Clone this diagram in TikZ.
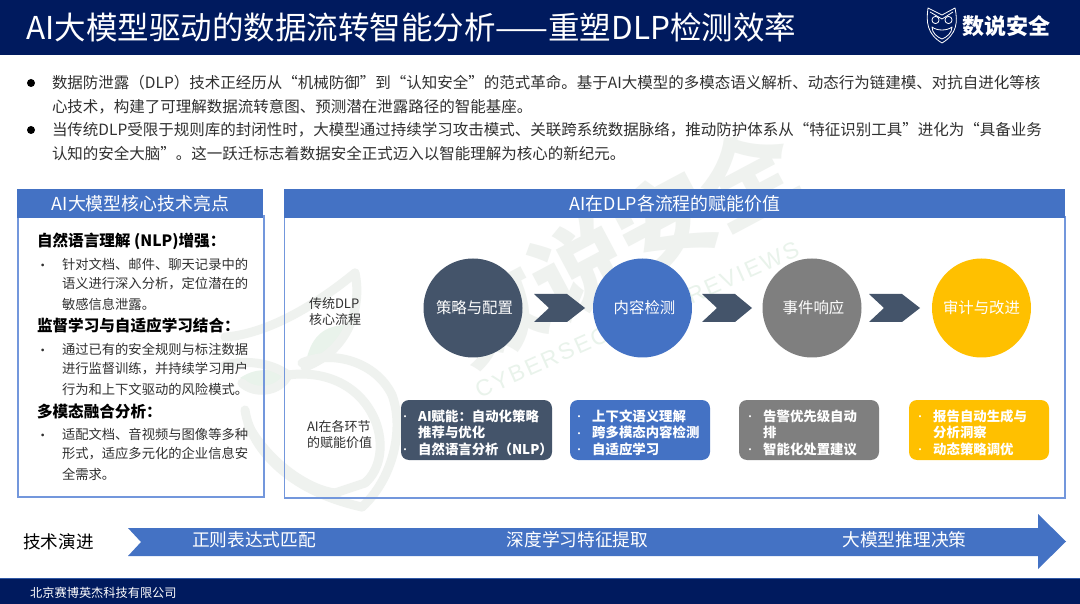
\documentclass[tikz,border=0pt]{standalone}
\usepackage{fontspec}
\setmainfont{Noto Sans CJK SC}
\newfontfamily\wmfont[LetterSpace=10]{Liberation Sans}
\definecolor{navy}{HTML}{001A5E}
\definecolor{hdr}{HTML}{4472C4}
\definecolor{edge}{HTML}{7397DC}
\definecolor{slate}{HTML}{44546A}
\definecolor{grayc}{HTML}{7F7F7F}
\definecolor{gold}{HTML}{FFC000}
\definecolor{wm}{HTML}{EFF2EF}
\definecolor{wmg}{HTML}{E9F3EB}
\definecolor{bodytxt}{HTML}{303030}
\newcommand{\fsz}[1]{\fontsize{#1}{#1}\selectfont}
\tikzset{
  txt/.style={inner sep=0pt,outer sep=0pt,anchor=west,text=bodytxt},
  para/.style={txt,font=\fsz{15.5}},
  sub/.style={txt,font=\fsz{13.3}},
  subdot/.style={txt,font=\fsz{13.3}},
  subhead/.style={txt,font=\fsz{15.6}\bfseries,text=black},
  panelhead/.style={fill=hdr,draw=none},
  panelbody/.style={draw=edge,line width=1.4pt},
  panelcap/.style={inner sep=0pt,text=white,font=\fsz{17.9}},
  stagec/.style={circle,minimum size=99pt,inner sep=0pt,text=white,font=\fsz{15.4}},
  stagel/.style={txt,font=\fsz{13}},
  aibox/.style={rounded corners=8pt,draw=none},
  boxt/.style={inner sep=0pt,anchor=west,text=white,font=\fsz{13.4}\bfseries},
  boxdot/.style={inner sep=0pt,anchor=center,text=white,font=\fsz{10},yshift=-2.5pt},
  chev/.style={fill=slate,draw=none},
  evo/.style={inner sep=0pt,text=white,font=\fsz{17.7}},
  wmline/.style={draw=wm,line width=9pt,line cap=round,line join=round}
}
\begin{document}
\begin{tikzpicture}[x=1pt,y=-1pt]
\useasboundingbox (0,0) rectangle (1080,604);
\fill[white] (0,0) rectangle (1080,604);
% watermark
\node[inner sep=0pt,rotate=28,text=wm,font=\fsz{96}\bfseries] (wmtext) at (622,245) {数说安全};
\node[inner sep=0pt,rotate=24,text=wmg,font=\fsz{23}\wmfont] (wmsub) at (637,320) {CYBERSECURITY REVIEWS};
\fill[wmg] (305,367) .. controls (310,335) and (325,325) .. (348,325) .. controls (345,345) and (330,360) .. (305,367) -- cycle;
\fill[wmg] (240,378) .. controls (255,368) and (270,368) .. (288,375) .. controls (280,390) and (255,392) .. (240,378) -- cycle;
\draw[wmline] (225,337) .. controls (255,335) and (300,318) .. (355,273);
\draw[wmline] (355,273) .. controls (362,305) and (350,350) .. (305,367);
\draw[wmline] (225,365) .. controls (245,360) and (270,362) .. (288,375);
\draw[wmline] (288,375) .. controls (280,392) and (255,395) .. (242,383);
\draw[wmline] (302,363) .. controls (330,350) and (375,360) .. (392,395) .. controls (405,430) and (392,480) .. (362,507);
\draw[wmline] (245,410) .. controls (250,445) and (285,490) .. (362,507);
\draw[wmline] (288,375) .. controls (325,370) and (360,385) .. (375,420) .. controls (385,445) and (380,470) .. (365,483);
\draw[wmline] (248,425) .. controls (270,465) and (310,490) .. (335,493);
\draw[wmline] (335,493) -- (365,483);
% header and footer
\fill[navy] (0,0) rectangle (1080,55);
\fill[navy] (0,579) rectangle (1080,604);
\draw[color=hdr!70!navy,line width=1pt] (0,578.5) -- (1080,578.5);
\node[inner sep=0pt,anchor=west,text=white,font=\fsz{31.5}] (title) at (26,27) {AI大模型驱动的数据流转智能分析——重塑DLP检测效率};
\node[inner sep=0pt,anchor=west,text=white,font=\fsz{12.2}] (foot) at (30,592.5) {北京赛博英杰科技有限公司};
% logo
\node[inner sep=0pt,anchor=west,text=white,font=\fsz{22}\bfseries] (logotxt) at (962,26) {数说安全};
\begin{scope}[draw=white,line width=0.8pt,line join=round]
\draw (928,8) -- (942,15) -- (955,8) .. controls (958,22) and (957,34) .. (942,43) .. controls (927,34) and (926,22) .. (928,8) -- cycle;
\draw (930,12) -- (942,19) -- (953,12);
\draw (935.5,20) circle (3.6);
\draw (948.5,20) circle (3.6);
\draw (932,27) .. controls (937,31) and (947,31) .. (952,27) .. controls (952,33) and (947,37) .. (942,39) .. controls (937,37) and (932,33) .. (932,27) -- cycle;
\end{scope}
% intro
\fill[black] (31,83) circle (4);
\fill[black] (31,130) circle (4);
\node[para] (l1) at (52,83) {数据防泄露（DLP）技术正经历从“机械防御”到“认知安全”的范式革命。基于AI大模型的多模态语义解析、动态行为链建模、对抗自进化等核};
\node[para] (l2) at (52,107) {心技术，构建了可理解数据流转意图、预测潜在泄露路径的智能基座。};
\node[para] (l3) at (52,130) {当传统DLP受限于规则库的封闭性时，大模型通过持续学习攻击模式、关联跨系统数据脉络，推动防护体系从“特征识别工具”进化为“具备业务};
\node[para] (l4) at (52,154) {认知的安全大脑”。这一跃迁标志着数据安全正式迈入以智能理解为核心的新纪元。};
% left panel
\draw[panelbody] (18,216) rectangle (264,497);
\fill[panelhead] (17,189) rectangle (263,218);
\node[panelcap] (lcap) at (140.5,203.5) {AI大模型核心技术亮点};
\node[subhead] (h1) at (37,241) {自然语言理解 (NLP)增强：};
\node[subdot] (b1) at (36,267) {•};
\node[sub] (t11) at (62,264) {针对文档、邮件、聊天记录中的};
\node[sub] (t12) at (62,284) {语义进行深入分析，定位潜在的};
\node[sub] (t13) at (62,304) {敏感信息泄露。};
\node[subhead] (h2) at (37,326) {监督学习与自适应学习结合：};
\node[subdot] (b2) at (36,352) {•};
\node[sub] (t21) at (62,349) {通过已有的安全规则与标注数据};
\node[sub] (t22) at (62,369) {进行监督训练，并持续学习用户};
\node[sub] (t23) at (62,389) {行为和上下文驱动的风险模式。};
\node[subhead] (h3) at (37,411) {多模态融合分析：};
\node[subdot] (b3) at (36,437) {•};
\node[sub] (t31) at (62,434) {适配文档、音视频与图像等多种};
\node[sub] (t32) at (62,454) {形式，适应多元化的企业信息安};
\node[sub] (t33) at (62,474) {全需求。};
% right panel
\draw[panelbody] (284.5,217) rectangle (1065,498);
\fill[panelhead] (284,189) rectangle (1065,218);
\node[panelcap] (rcap) at (675,203.5) {AI在DLP各流程的赋能价值};
\node[stagel] (s1) at (309,304) {传统DLP};
\node[stagel] (s2) at (309,320) {核心流程};
\node[stagel] (s3) at (307,427) {AI在各环节};
\node[stagel] (s4) at (307,443) {的赋能价值};
\node[stagec,fill=slate] (c1) at (473,308) {\hspace*{3pt}策略与配置};
\node[stagec,fill=hdr] (c2) at (642.5,308) {\hspace*{4pt}内容检测};
\node[stagec,fill=grayc] (c3) at (812,308) {\hspace*{3pt}事件响应};
\node[stagec,fill=gold] (c4) at (981.5,308) {审计与改进};
\fill[chev] (534,294) -- (567,294) -- (585,308) -- (567,322) -- (534,322) -- (549,308) -- cycle;
\fill[chev] (702,294) -- (735,294) -- (752,308) -- (735,322) -- (702,322) -- (717,308) -- cycle;
\fill[chev] (869,294) -- (902,294) -- (920,308) -- (902,322) -- (869,322) -- (884,308) -- cycle;
% AI boxes
\fill[aibox,fill=slate] (401,400) rectangle (552,460);
\fill[aibox,fill=hdr] (570,400) rectangle (710,460);
\fill[aibox,fill=grayc] (739,400) rectangle (879,460);
\fill[aibox,fill=gold] (909,400) rectangle (1049,460);
\node[boxdot] (a0) at (405,416) {•};
\node[boxt] (a1) at (418,416) {AI赋能：自动化策略};
\node[boxt] (a2) at (418,432.5) {推荐与优化};
\node[boxdot] (a3b) at (405,449) {•};
\node[boxt] (a3) at (418,449) {自然语言分析（NLP）};
\node[boxdot] (d0) at (579,416) {•};
\node[boxt] (d1) at (592,416) {上下文语义理解};
\node[boxdot] (d2b) at (579,432.5) {•};
\node[boxt] (d2) at (592,432.5) {跨多模态内容检测};
\node[boxdot] (d3b) at (579,449) {•};
\node[boxt] (d3) at (592,449) {自适应学习};
\node[boxdot] (e0) at (750,416) {•};
\node[boxt] (e1) at (763,416) {告警优先级自动};
\node[boxt] (e2) at (763,432.5) {排};
\node[boxdot] (e3b) at (750,449) {•};
\node[boxt] (e3) at (763,449) {智能化处置建议};
\node[boxdot] (f0) at (920,416) {•};
\node[boxt] (f1) at (933,416) {报告自动生成与};
\node[boxt] (f2) at (933,432.5) {分析洞察};
\node[boxdot] (f3b) at (920,449) {•};
\node[boxt] (f3) at (933,449) {动态策略调优};
% evolution arrow
\node[inner sep=0pt,anchor=west,text=black,font=\fsz{17.6}] (evlab) at (23,542) {技术演进};
\fill[hdr] (128,528) -- (1038,528) -- (1038,514) -- (1066,541.5) -- (1038,569) -- (1038,556) -- (128,556) -- (141,542) -- cycle;
\node[evo] (e1a) at (254,540) {正则表达式匹配};
\node[evo] (e2a) at (577.5,540) {深度学习特征提取};
\node[evo] (e3a) at (904.5,540) {大模型推理决策};
\end{tikzpicture}
\end{document}
